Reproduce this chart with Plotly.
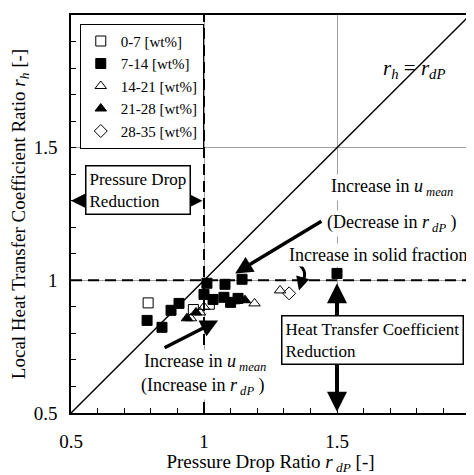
import plotly.graph_objects as go

# ---- data ----
series_names = ["0-7 [wt%]", "7-14 [wt%]", "14-21 [wt%]", "21-28 [wt%]", "28-35 [wt%]"]
s1_x = [0.79, 0.96, 1.02]
s1_y = [0.915, 0.89, 0.91]
s2_x = [0.786, 0.842, 0.876, 0.906, 1.0, 1.011, 1.034, 1.079, 1.075, 1.10, 1.128, 1.143, 1.5]
s2_y = [0.849, 0.823, 0.887, 0.913, 0.947, 0.989, 0.928, 0.985, 0.936, 0.917, 0.932, 1.004, 1.026]
s3_x = [0.951, 0.985, 1.0, 1.19, 1.286]
s3_y = [0.857, 0.879, 0.90, 0.913, 0.962]
s4_x = [0.936, 0.97, 1.113, 1.154]
s4_y = [0.857, 0.879, 0.921, 0.925]
s5_x = [1.32]
s5_y = [0.951]
axis_ticks = [0.5, 1, 1.5, 2]

FONT = "Liberation Serif"
fig = go.Figure()

# reference lines
fig.add_trace(go.Scatter(x=[0.5, 2], y=[0.5, 2], mode="lines",
                         line=dict(color="black", width=1.5), showlegend=False, hoverinfo="skip"))
fig.add_trace(go.Scatter(x=[1, 1], y=[0.5, 2], mode="lines",
                         line=dict(color="black", width=2, dash="11px,6px"), showlegend=False, hoverinfo="skip"))
fig.add_trace(go.Scatter(x=[0.5, 2], y=[1, 1], mode="lines",
                         line=dict(color="black", width=2, dash="11px,6px"), showlegend=False, hoverinfo="skip"))

symbols = ["square-open", "square", "triangle-up-open", "triangle-up", "diamond-open"]
xs = [s1_x, s2_x, s3_x, s4_x, s5_x]
ys = [s1_y, s2_y, s3_y, s4_y, s5_y]
for name, sym, x, y in zip(series_names, symbols, xs, ys):
    fig.add_trace(go.Scatter(x=x, y=y, mode="markers", name=name,
                             marker=dict(symbol=sym, size=10, color="black",
                                         line=dict(color="black", width=1))))

ann = []
def arrow(x, y, ax, ay, w=3.5, both=False, size=1.0):
    ann.append(dict(x=x, y=y, ax=ax, ay=ay, xref="x", yref="y", axref="x", ayref="y",
                    text="", showarrow=True, arrowhead=2, arrowsize=size, arrowwidth=w,
                    arrowcolor="black", arrowside="end+start" if both else "end",
                    startarrowhead=2, startarrowsize=size, standoff=0, startstandoff=0))

def text(x, y, t, size=17, box=False, align="center"):
    d = dict(x=x, y=y, xref="x", yref="y", text=t, showarrow=False,
             font=dict(family=FONT, size=size, color="black"), bgcolor="white", align=align)
    if box:
        d.update(bordercolor="black", borderwidth=1.5, borderpad=3)
    ann.append(d)

# arrows
arrow(0.5, 1.3, 1.0, 1.3, w=3, both=True)
arrow(1.5, 0.505, 1.5, 0.995, w=4, both=True)
arrow(1.117, 1.026, 1.447, 1.226, w=3.5)
arrow(1.053, 0.849, 0.846, 0.743, w=3.5)
arrow(1.357, 0.962, 1.368, 1.0, w=3, size=0.9)

# texts
text(0.752, 1.34, "Pressure Drop<br>Reduction", size=17, box=True, align="left")
text(1.632, 0.774, "Heat Transfer Coefficient<br>Reduction", size=17, box=True, align="left")
text(1.654, 1.094, "Increase in solid fraction", size=18)
text(1.707, 1.351, "Increase in <i>u</i><sub><i> mean</i></sub>", size=18)
text(1.707, 1.215, "(Decrease in <i>r</i><sub><i> dP</i></sub> )", size=18)
text(1.004, 0.691, "Increase in <i>u</i><sub><i> mean</i></sub>", size=18)
text(0.996, 0.60, "(Increase in <i>r</i><sub><i> dP</i></sub> )", size=18)
ann.append(dict(x=1.79, y=1.795, xref="x", yref="y", showarrow=False,
                text="<i>r</i><sub><i>h</i></sub> = <i>r</i><sub><i>dP</i></sub>",
                font=dict(family=FONT, size=21, color="black")))

shapes = [dict(type="path", xref="x", yref="y",
               path="M 1.35,1.064 Q 1.40,1.03 1.362,0.985",
               line=dict(color="black", width=3))]

axis_common = dict(range=[0.5, 2], tickvals=axis_ticks, ticktext=["0.5", "1", "1.5", "2"],
                   showline=True, linecolor="black", linewidth=1.5, mirror=True,
                   showgrid=True, gridcolor="#a0a0a0", gridwidth=0.8, zeroline=False,
                   ticks="inside", ticklen=5, tickcolor="black", automargin=False,
                   minor=dict(dtick=0.1, ticks="inside", ticklen=5, tickcolor="black", showgrid=False),
                   tickfont=dict(family=FONT, size=19, color="black"))

# page body has an 8px margin, so the figure is sized/margined to compensate
fig.update_layout(
    width=466, height=467,
    margin=dict(l=63, r=4, t=7, b=62),
    plot_bgcolor="white", paper_bgcolor="white",
    font=dict(family=FONT, color="black"),
    xaxis=dict(**axis_common, ticklabelstandoff=10,
               title=dict(text="Pressure Drop Ratio <i>r</i><sub><i> dP</i></sub> [-]",
                          font=dict(family=FONT, size=19), standoff=4)),
    yaxis=dict(**axis_common, ticklabelstandoff=8,
               title=dict(text="Local Heat Transfer Coefficient Ratio <i>r</i><sub><i>h</i></sub> [-]",
                          font=dict(family=FONT, size=19), standoff=4)),
    legend=dict(x=0.022, y=0.978, xanchor="left", yanchor="top",
                bordercolor="black", borderwidth=1, bgcolor="white",
                font=dict(family=FONT, size=15, color="black"),
                itemwidth=30, tracegroupgap=0),
    annotations=ann, shapes=shapes,
    showlegend=True,
)

fig.write_html("out.html")
